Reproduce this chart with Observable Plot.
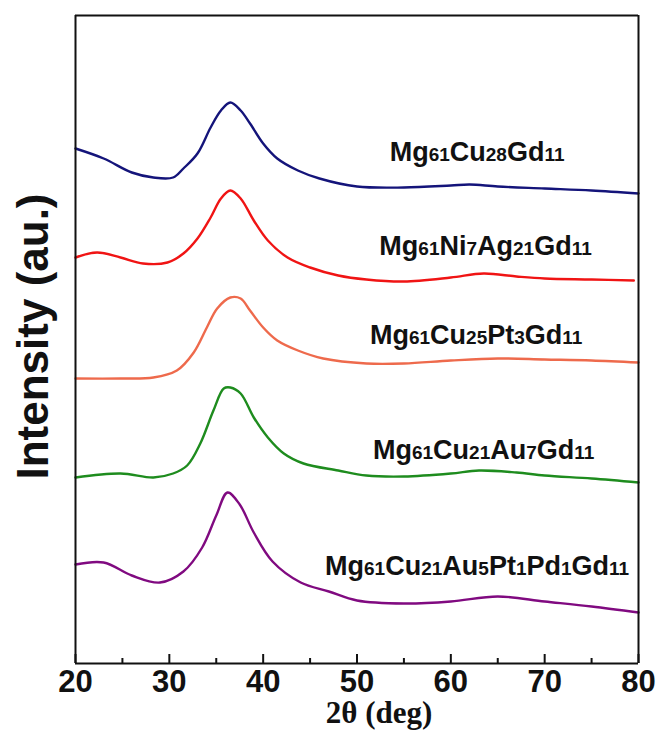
<!DOCTYPE html>
<html><head><meta charset="utf-8">
<script src="https://cdn.jsdelivr.net/npm/d3@7"></script>
<script src="https://cdn.jsdelivr.net/npm/@observablehq/plot@0.6"></script>
<style>body{margin:0;background:#fff} svg{display:block}</style>
</head><body><div id="chart"></div>
<script>
// 2θ positions and intensities (a.u.)
const navyTheta = [20, 23, 26, 28.3, 30.4, 31.5, 33, 34.4, 35.5, 36.5, 37.6, 38.6, 40, 41.5, 43.7, 46, 50, 55, 60, 62, 65, 70, 75, 80];
const navyI     = [515, 505, 491, 486, 486, 495, 510, 536, 553, 561, 553, 540, 520, 505, 493, 485, 477, 476, 478, 479, 477, 475, 473, 470];

const redTheta = [20, 22.3, 24.8, 27.2, 29.8, 31.5, 33, 34.4, 35.5, 36.5, 37.6, 39, 40.5, 42.6, 45, 48, 51, 55, 60, 63.5, 67, 70, 75, 79.5];
const redI     = [406, 411, 406, 400, 401, 410, 425, 446, 465, 473, 465, 443, 423, 406, 396, 388, 384, 382, 386, 390, 387, 385, 384, 383];

const salmonTheta = [20, 24.8, 28.3, 30.8, 32.6, 34, 35.1, 36.5, 37.6, 38.6, 40, 41.5, 43.7, 46.4, 51, 55, 60, 65, 70, 75, 80];
const salmonI     = [285, 285, 286, 293, 311, 336, 355, 366, 365, 353, 336, 323, 313, 305, 300, 300, 303, 305, 304, 303, 301];

const greenTheta = [20, 24.8, 28.3, 30.4, 31.9, 33.3, 34.7, 35.8, 36.5, 37.6, 39, 40.5, 42.2, 44.3, 48, 51, 55, 60, 63, 67, 70, 75, 80];
const greenI     = [186, 190, 186, 190, 198, 220, 253, 275, 276, 270, 246, 226, 210, 200, 193, 188, 187, 190, 193, 191, 188, 185, 181];

const purpleTheta = [20, 23, 26, 29, 31.5, 33.5, 35, 36.2, 37.5, 39, 41, 44, 47, 50, 55, 60, 65, 70, 75, 80];
const purpleI     = [99, 101, 88, 81, 92, 116, 148, 171, 159, 131, 102, 81, 72, 63, 60, 62, 67, 62, 57, 51];

const seriesNames = ["Mg61Cu28Gd11", "Mg61Ni7Ag21Gd11", "Mg61Cu25Pt3Gd11", "Mg61Cu21Au7Gd11", "Mg61Cu21Au5Pt1Pd1Gd11"];
const seriesColors = ["#14147a", "#f01414", "#ee6a4c", "#1e8c1e", "#800a80"];
const labelTheta = [62.8, 63.7, 62.7, 63.5, 62.8];
const labelI = [511, 417, 328, 213, 97];

const xTicks = [20, 30, 40, 50, 60, 70, 80];
const xMinorTicks = [25, 35, 45, 55, 65, 75];
const xDomain = [20, 80];
const yDomain = [0, 648];
const xTitle = "2θ (deg)";
const yTitle = "Intensity (au.)";

const thetas = [navyTheta, redTheta, salmonTheta, greenTheta, purpleTheta];
const ints = [navyI, redI, salmonI, greenI, purpleI];
const rows = [];
thetas.forEach((t, s) => t.forEach((v, i) => rows.push({series: seriesNames[s], theta: v, intensity: ints[s][i]})));
const labels = seriesNames.map((n, i) => ({name: n, theta: labelTheta[i], intensity: labelI[i]}));

const chart = Plot.plot({
  width: 659, height: 735,
  marginLeft: 75, marginRight: 21, marginTop: 15, marginBottom: 72,
  style: {fontFamily: "'Liberation Sans', Arial, sans-serif", background: "#fff"},
  x: {domain: xDomain},
  y: {domain: yDomain},
  color: {domain: seriesNames, range: seriesColors},
  marks: [
    Plot.line(rows, {x: "theta", y: "intensity", z: "series", stroke: "series", strokeWidth: 2.4, curve: "catmull-rom"}),
    Plot.text(labels, {x: "theta", y: "intensity", text: "name", fontSize: 27, fontWeight: "bold", fill: "#111", textAnchor: "middle", lineAnchor: "middle", className: "serieslabel"}),
    Plot.axisX({ticks: xTicks, tickSize: -9, text: null, label: null, strokeWidth: 2, stroke: "#111"}),
    Plot.axisX({ticks: xMinorTicks, tickSize: -5, text: null, label: null, strokeWidth: 2, stroke: "#111"}),
    Plot.axisX({ticks: xTicks, tickSize: 0, tickPadding: 6, fontSize: 31, fontWeight: "bold", fill: "#111", label: null, tickFormat: d => String(d)}),
    Plot.axisY({ticks: [], label: null}),
    Plot.text([xTitle], {frameAnchor: "bottom", dy: 50, dx: 22, fontSize: 31, fontWeight: "bold", fontFamily: "'Liberation Serif', 'Times New Roman', serif", fill: "#111", lineAnchor: "middle"}),
    Plot.text([yTitle], {frameAnchor: "left", dx: -42, dy: -3, rotate: -90, fontSize: 44, fontWeight: "bold", fill: "#111", lineAnchor: "middle", textAnchor: "middle"}),
    Plot.ruleX(xDomain, {stroke: "#111", strokeWidth: 2}),
    Plot.ruleY(yDomain, {stroke: "#111", strokeWidth: 2})
  ]
});
document.getElementById("chart").appendChild(chart);

// render subscript-sized digits in formula labels
chart.querySelectorAll("text").forEach(t => {
  const s = t.textContent;
  if (!/^Mg\d/.test(s)) return;
  t.textContent = "";
  s.split(/(\d+)/).filter(p => p.length).forEach(p => {
    const ts = document.createElementNS("http://www.w3.org/2000/svg", "tspan");
    ts.textContent = p;
    if (/^\d+$/.test(p)) ts.setAttribute("font-size", "19");
    t.appendChild(ts);
  });
});
</script></body></html>
